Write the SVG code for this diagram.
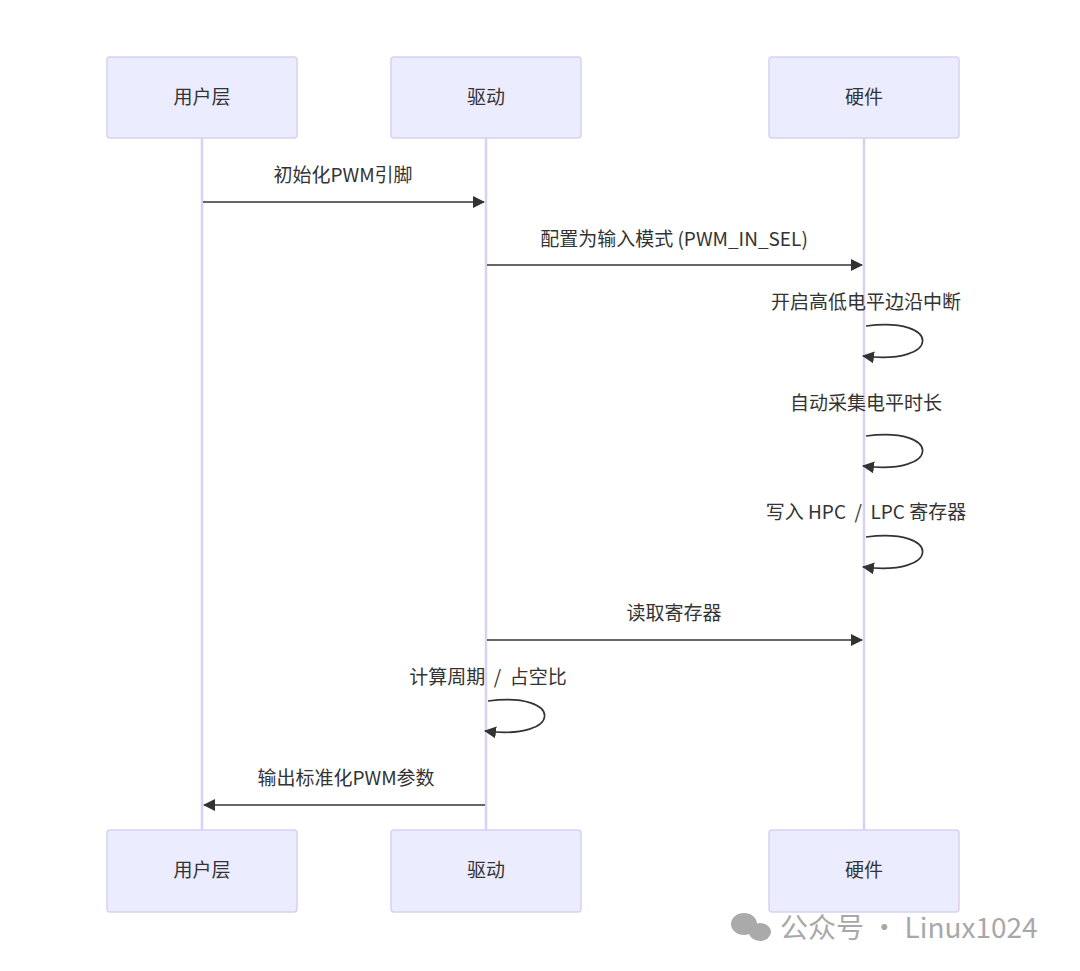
<svg xmlns="http://www.w3.org/2000/svg" width="1080" height="971" viewBox="0 0 1080 971">
<style>
.box{fill:#ECECFF;stroke:#d9d0f3;stroke-width:1.5}
.life{stroke:#d9d0f3;stroke-width:2.5}
.t{font-family:"Noto Sans CJK SC","Noto Sans",sans-serif;font-size:19px;fill:#333;text-anchor:middle;dominant-baseline:middle}
.m{stroke:#333;stroke-width:1.6;fill:none}
</style>
<defs><marker id="a" markerWidth="12" markerHeight="12" refX="11" refY="6" orient="auto" markerUnits="userSpaceOnUse"><path d="M0,0 L12,6 L0,12 z" fill="#333"/></marker></defs>
<rect width="1080" height="971" fill="#fff"/>
<g id="lifelines">
<line class="life" x1="202" y1="138" x2="202" y2="830"/>
<line class="life" x1="486" y1="138" x2="486" y2="830"/>
<line class="life" x1="864" y1="138" x2="864" y2="830"/>
</g>
<g id="user-top"><rect class="box" x="107" y="57" width="190" height="81" rx="3"/><text class="t" x="202" y="99">用户层</text></g>
<g id="driver-top"><rect class="box" x="391" y="57" width="190" height="81" rx="3"/><text class="t" x="486" y="99">驱动</text></g>
<g id="hw-top"><rect class="box" x="769" y="57" width="190" height="81" rx="3"/><text class="t" x="864" y="99">硬件</text></g>
<g id="user-bottom"><rect class="box" x="107" y="830" width="190" height="82" rx="3"/><text class="t" x="202" y="872">用户层</text></g>
<g id="driver-bottom"><rect class="box" x="391" y="830" width="190" height="82" rx="3"/><text class="t" x="486" y="872">驱动</text></g>
<g id="hw-bottom"><rect class="box" x="769" y="830" width="190" height="82" rx="3"/><text class="t" x="864" y="872">硬件</text></g>
<g id="connectors">
<line class="m" x1="203" y1="202" x2="484" y2="202" marker-end="url(#a)"/>
<line class="m" x1="487" y1="265" x2="862" y2="265" marker-end="url(#a)"/>
<path class="m" d="M866,326 C942,316 942,366 863,356" marker-end="url(#a)"/>
<path class="m" d="M866,436 C942,426 942,476 863,466" marker-end="url(#a)"/>
<path class="m" d="M866,537 C942,527 942,577 863,567" marker-end="url(#a)"/>
<line class="m" x1="487" y1="640" x2="862" y2="640" marker-end="url(#a)"/>
<path class="m" d="M488,701 C564,691 564,741 485,731" marker-end="url(#a)"/>
<line class="m" x1="485" y1="805" x2="204" y2="805" marker-end="url(#a)"/>
</g>
<g id="labels">
<text class="t" x="343" y="177">初始化PWM引脚</text>
<text class="t" x="674" y="241">配置为输入模式 (PWM_IN_SEL)</text>
<text class="t" x="866" y="304">开启高低电平边沿中断</text>
<text class="t" x="866" y="405">自动采集电平时长</text>
<text class="t" x="866" y="514" xml:space="preserve">写入 HPC  /  LPC 寄存器</text>
<text class="t" x="674" y="615">读取寄存器</text>
<text class="t" x="488" y="679" xml:space="preserve">计算周期  /  占空比</text>
<text class="t" x="346" y="780">输出标准化PWM参数</text>
</g>
<g id="watermark" fill="#aaa">
<ellipse cx="744" cy="924" rx="13" ry="11"/><ellipse cx="760" cy="932" rx="11" ry="9"/>
<text x="780" y="938" font-family="'Noto Sans CJK SC','Noto Sans',sans-serif" font-size="28" fill="#a8a8a8">公众号 · Linux1024</text>
</g>
</svg>
